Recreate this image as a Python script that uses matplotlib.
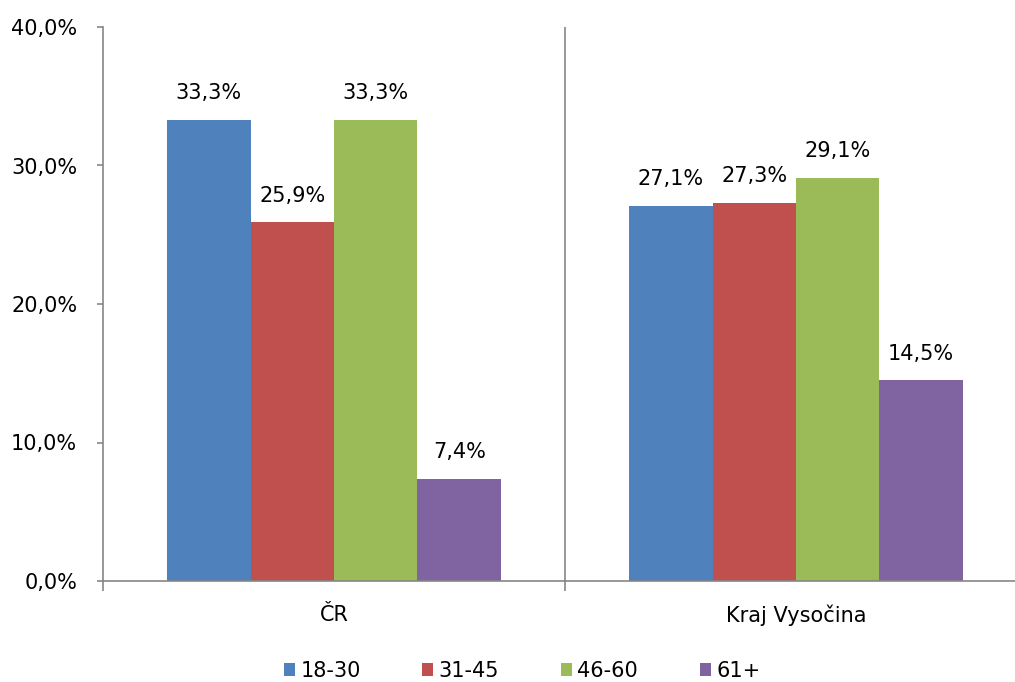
import numpy as np
import matplotlib
matplotlib.use("Agg")
import matplotlib.pyplot as plt
from matplotlib.patches import Patch
from matplotlib.ticker import FuncFormatter

plt.rcParams['font.family'] = ['DejaVu Sans']

categories = ["ČR", "Kraj Vysočina"]
groups = ["18-30", "31-45", "46-60", "61+"]
values = {
    "18-30": [33.3, 27.1],
    "31-45": [25.9, 27.3],
    "46-60": [33.3, 29.1],
    "61+": [7.4, 14.5],
}
colors = ["#4F81BD", "#C0504D", "#9BBB59", "#8064A2"]
y_ticks = [0, 10, 20, 30, 40]

axis_grey = "#868686"
fsize = 15

fig = plt.figure(figsize=(10.15, 6.82), dpi=100)
ax = fig.add_axes([103/1015, 101/682, 924/1015, 554/682])

bar_w = 0.1807
centers = np.arange(len(categories)) + 0.5
for i, g in enumerate(groups):
    xs = centers + (i - 1.5) * bar_w
    bars = ax.bar(xs, values[g], width=bar_w, color=colors[i], linewidth=0)
    for b, v in zip(bars, values[g]):
        ax.annotate(("%.1f%%" % v).replace(".", ","),
                    (b.get_x() + b.get_width() / 2, v),
                    xytext=(0, 12), textcoords="offset points",
                    ha="center", va="bottom", fontsize=fsize)

ax.set_xlim(0, len(categories))
ax.set_ylim(0, 40)
ax.set_yticks(y_ticks)
ax.yaxis.set_major_formatter(FuncFormatter(lambda v, p: ("%.1f%%" % v).replace(".", ",")))

ax.set_xticks(np.arange(len(categories) + 1))
ax.set_xticklabels([])
ax.set_xticks(centers, minor=True)
ax.set_xticklabels(categories, minor=True)
ax.tick_params(axis="x", which="major", direction="out", length=7, width=1.2, color=axis_grey)
ax.tick_params(axis="x", which="minor", length=0, pad=17, labelsize=fsize)
ax.tick_params(axis="y", direction="out", length=4.5, width=1.2, color=axis_grey, pad=14, labelsize=fsize)

# divider between categories
ax.axvline(1, color=axis_grey, linewidth=1.2)

for s in ["top", "right"]:
    ax.spines[s].set_visible(False)
for s in ["left", "bottom"]:
    ax.spines[s].set_color(axis_grey)
    ax.spines[s].set_linewidth(1.2)

handles = [Patch(facecolor=c, edgecolor="none") for c in colors]
fig.legend(handles, groups, loc="center", bbox_to_anchor=(522/1015, 1 - 671/682),
           ncol=4, frameon=False, fontsize=fsize, handlelength=0.55, handleheight=0.55,
           handletextpad=0.25, columnspacing=2.95)

fig.savefig("out.png", dpi=100)
